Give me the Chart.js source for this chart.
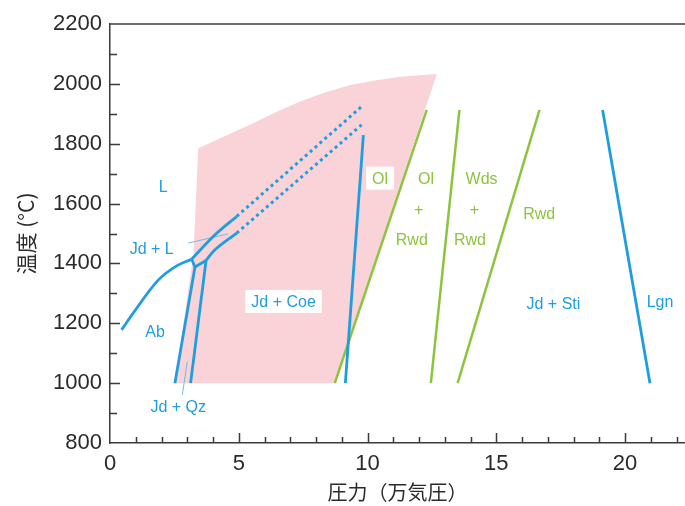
<!DOCTYPE html>
<html lang="ja">
<head>
<meta charset="utf-8">
<script src="https://cdn.jsdelivr.net/npm/chart.js@4/dist/chart.umd.min.js"></script>
<style>
  html, body { margin: 0; padding: 0; background: #fff; }
  #wrap { width: 685px; height: 506px; }
</style>
</head>
<body>
<div id="wrap"><canvas id="chart" width="685" height="506"></canvas></div>
<script>
// 圧力（万気圧）, 温度（°C）
const xMin = 0;
const xMax = 22.33;
const yMin = 800;
const yMax = 2200;

// phase boundaries, [pressure, temperature]
const coesiteField = [
  [2.52, 1000], [3.24, 1430], [3.43, 1785], [4.47, 1826], [5.44, 1863],
  [6.41, 1904], [7.38, 1941], [8.35, 1971], [9.32, 1996], [10.29, 2011],
  [11.26, 2024], [12.69, 2033], [8.73, 1000], [2.52, 1000],
];
const meltCurve = [[0.45, 1178], [0.90, 1234], [1.88, 1345], [2.59, 1392], [3.17, 1414]];
const upperLiquidus = [[3.17, 1414], [4.01, 1490], [4.92, 1557]];
const upperLiquidusDotted = [[4.92, 1557], [9.77, 1924]];
const lowerLiquidus = [[3.73, 1410], [4.01, 1440], [4.92, 1501]];
const lowerLiquidusDotted = [[4.92, 1501], [9.77, 1863]];
const tripleLink = [[3.17, 1414], [3.30, 1388], [3.73, 1410]];
const qzLeft = [[3.30, 1388], [2.52, 1000]];
const qzRight = [[3.73, 1410], [3.13, 1000]];
const coeSti = [[9.84, 1829], [9.14, 1000]];
const stiLgn = [[19.13, 1913], [20.97, 1000]];
const olRwd = [[12.30, 1913], [8.73, 1000]];
const rwdWds = [[13.57, 1913], [12.46, 1000]];
const wdsRwd = [[16.68, 1913], [13.50, 1000]];
const leaderJdL = [[3.04, 1468], [4.59, 1499]];
const leaderJdQz = [[2.81, 961], [3.00, 1072]];

// field labels
const labelTexts = ["L", "Jd + L", "Ab", "Jd + Qz", "Jd + Coe", "Jd + Sti", "Lgn",
  "Ol", "Ol", "+", "Rwd", "Wds", "+", "Rwd", "Rwd"];
const labelX = [2.07, 1.62, 1.75, 2.65, 6.74, 17.22, 21.36,
  10.49, 12.27, 11.99, 11.72, 14.43, 14.15, 13.98, 16.67];
const labelY = [1657, 1451, 1173, 922, 1273, 1267, 1273,
  1685, 1685, 1579, 1479, 1685, 1579, 1479, 1566];
const labelKind = ["blue", "blue", "blue", "blue", "blue-box", "blue", "blue",
  "green-box", "green", "green", "green", "green", "green", "green", "green"];

const BLUE = "#1e9ddf";
const GREEN = "#8cc43e";
const PINK = "#f9d3d7";
const AXIS = "#3b3b3b";
const TEXT = "#2a2a2a";

const toPoints = (pairs) => pairs.map(([x, y]) => ({ x, y }));

const lineSet = (pairs, color, width, extra = {}) => ({
  data: toPoints(pairs),
  showLine: true,
  borderColor: color,
  borderWidth: width,
  pointRadius: 0,
  fill: false,
  tension: 0,
  order: 1,
  ...extra,
});

const smooth = { cubicInterpolationMode: "monotone" };

const datasets = [
  {
    data: toPoints(coesiteField),
    showLine: true,
    borderWidth: 0,
    borderColor: "rgba(0,0,0,0)",
    backgroundColor: PINK,
    pointRadius: 0,
    fill: "shape",
    tension: 0,
    order: 10,
  },
  lineSet(meltCurve, BLUE, 2.8, smooth),
  lineSet(upperLiquidus, BLUE, 2.8, smooth),
  lineSet(lowerLiquidus, BLUE, 2.8, smooth),
  lineSet(upperLiquidusDotted, BLUE, 3, { borderDash: [3, 3.5] }),
  lineSet(lowerLiquidusDotted, BLUE, 3, { borderDash: [3, 3.5] }),
  lineSet(tripleLink, BLUE, 2.8),
  lineSet(qzLeft, BLUE, 2.8),
  lineSet(qzRight, BLUE, 2.8),
  lineSet(coeSti, BLUE, 2.8),
  lineSet(stiLgn, BLUE, 2.8),
  lineSet(olRwd, GREEN, 2.5),
  lineSet(rwdWds, GREEN, 2.5),
  lineSet(wdsRwd, GREEN, 2.5),
  lineSet(leaderJdL, "#6fbde6", 1),
  lineSet(leaderJdQz, "#6fbde6", 1),
];

// inward tick marks and the top frame line
const frameTicks = {
  id: "frameTicks",
  afterDraw(chart) {
    const { ctx, chartArea, scales } = chart;
    ctx.save();
    ctx.strokeStyle = AXIS;
    ctx.lineWidth = 1.5;
    ctx.beginPath();
    ctx.moveTo(chartArea.left, chartArea.top);
    ctx.lineTo(chartArea.right, chartArea.top);
    for (let v = 1; v <= Math.floor(xMax); v += 1) {
      const px = Math.round(scales.x.getPixelForValue(v)) + 0.5;
      const len = v % 5 === 0 ? 10 : 6;
      ctx.moveTo(px, chartArea.bottom);
      ctx.lineTo(px, chartArea.bottom - len);
    }
    for (let v = yMin + 100; v < yMax; v += 100) {
      const py = Math.round(scales.y.getPixelForValue(v)) + 0.5;
      const len = v % 200 === 0 ? 10 : 7;
      ctx.moveTo(chartArea.left, py);
      ctx.lineTo(chartArea.left + len, py);
    }
    ctx.stroke();
    ctx.restore();
  },
};

const fieldLabels = {
  id: "fieldLabels",
  afterDatasetsDraw(chart) {
    const { ctx, scales } = chart;
    ctx.save();
    ctx.font = "16px 'Liberation Sans', Arial, sans-serif";
    ctx.textAlign = "center";
    ctx.textBaseline = "middle";
    labelTexts.forEach((text, i) => {
      const px = scales.x.getPixelForValue(labelX[i]);
      const py = scales.y.getPixelForValue(labelY[i]);
      const kind = labelKind[i];
      if (kind.endsWith("box")) {
        const w = ctx.measureText(text).width + 12;
        ctx.fillStyle = "#fff";
        ctx.fillRect(px - w / 2, py - 11.5, w, 23);
      }
      ctx.fillStyle = kind.startsWith("green") ? GREEN : BLUE;
      ctx.fillText(text, px, py + 1);
    });
    ctx.restore();
  },
};

const tickFont = { family: "'Liberation Sans', Arial, sans-serif", size: 22 };
// the library's own tick marks only reserve space; the visible ones are drawn inward above
const hiddenGrid = {
  display: true,
  drawOnChartArea: false,
  drawTicks: true,
  tickLength: 8,
  tickColor: "rgba(0,0,0,0)",
};

new Chart(document.getElementById("chart"), {
  type: "scatter",
  data: { datasets },
  options: {
    responsive: false,
    animation: false,
    events: [],
    layout: { padding: { top: 24, right: 0, bottom: 0, left: 0 } },
    plugins: { legend: { display: false }, tooltip: { enabled: false } },
    scales: {
      x: {
        type: "linear",
        min: xMin,
        max: xMax,
        afterFit: (scale) => { scale.height = 63; },
        grid: hiddenGrid,
        border: { display: true, color: AXIS, width: 1.5 },
        ticks: {
          stepSize: 1,
          autoSkip: false,
          maxRotation: 0,
          padding: 0,
          color: TEXT,
          font: tickFont,
          callback: (v) => (v % 5 === 0 ? String(v) : ""),
        },
        title: {
          display: true,
          text: "圧力（万気圧）",
          color: TEXT,
          font: { family: "'Noto Sans CJK JP', sans-serif", size: 20 },
          padding: { top: 0, bottom: 2 },
        },
      },
      y: {
        type: "linear",
        min: yMin,
        max: yMax,
        afterFit: (scale) => { scale.width = 110; },
        grid: hiddenGrid,
        border: { display: true, color: AXIS, width: 1.5 },
        ticks: {
          stepSize: 100,
          autoSkip: false,
          padding: 0,
          color: TEXT,
          font: tickFont,
          callback: (v) => (v % 200 === 0 ? String(v) : ""),
        },
        title: {
          display: true,
          text: "温度 (°C)",
          color: TEXT,
          font: { family: "'Noto Sans CJK JP', sans-serif", size: 21 },
          padding: { top: 13.5, bottom: 0 },
        },
      },
    },
  },
  plugins: [frameTicks, fieldLabels],
});
</script>
</body>
</html>
